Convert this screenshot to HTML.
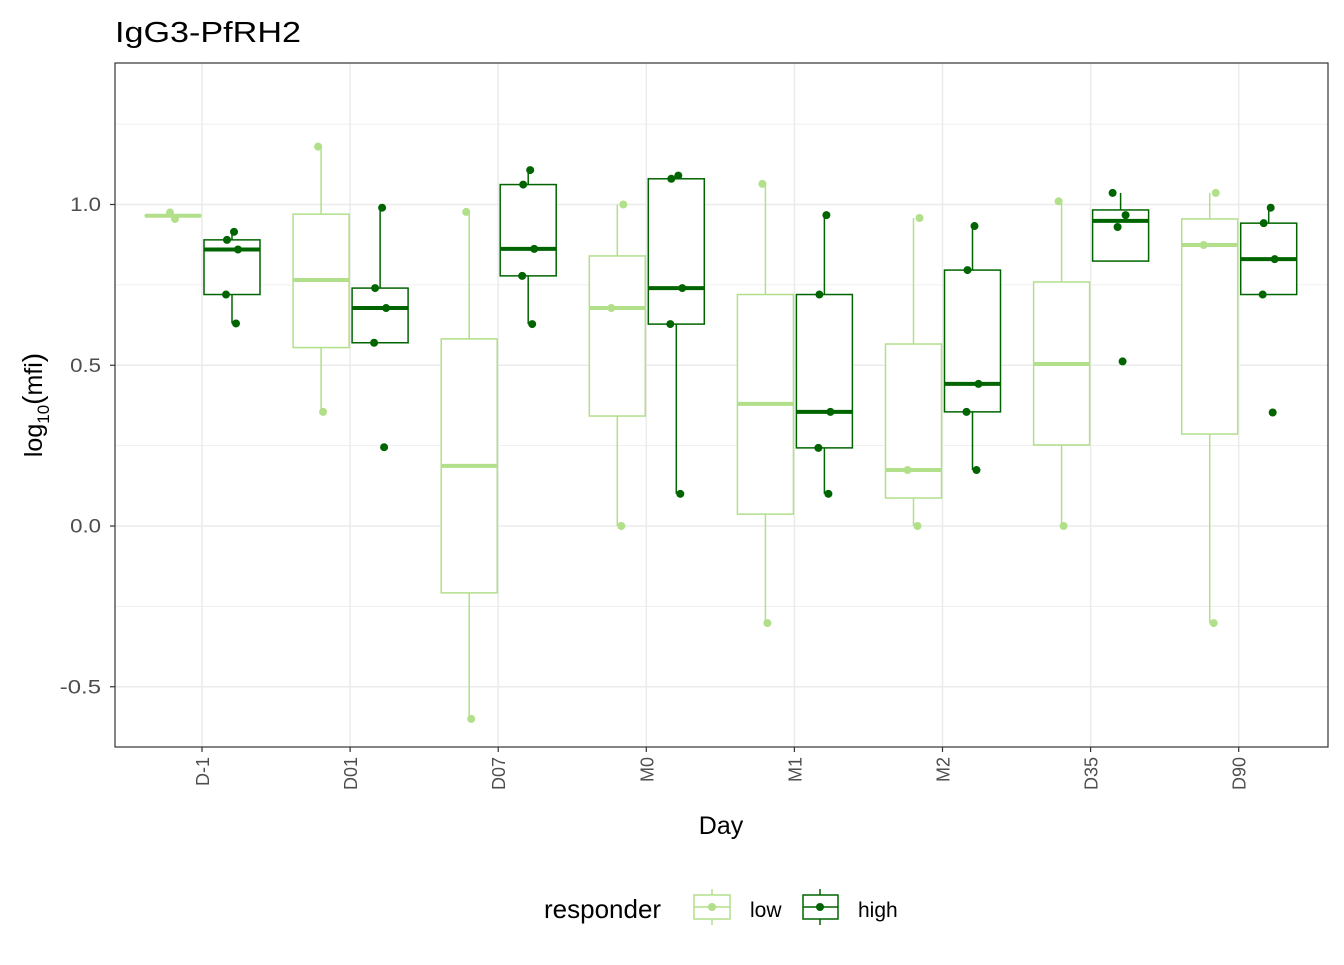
<!DOCTYPE html>
<html><head><meta charset="utf-8"><style>
body{margin:0;background:#fff;}
svg text{font-family:"Liberation Sans",Arial,sans-serif;}
</style></head><body>
<svg id="chart" width="1344" height="960" xmlns="http://www.w3.org/2000/svg">
<rect width="1344" height="960" fill="#fff"/>
<text x="115" y="42" font-size="29" textLength="186" lengthAdjust="spacingAndGlyphs" fill="#000">IgG3-PfRH2</text>
<g id="grid"></g>
<g id="marks"></g>
<rect x="115" y="63" width="1213" height="684" fill="none" stroke="#333" stroke-width="1.2"/>
<g id="axes"></g>
<text x="721" y="834" font-size="25" text-anchor="middle" fill="#000">Day</text>
<text transform="translate(42,405) rotate(-90)" font-size="25" text-anchor="middle" fill="#000">log<tspan font-size="17" dy="7">10</tspan><tspan dy="-7" font-size="28">(</tspan>mfi<tspan font-size="28">)</tspan></text>
<g>
<text x="544" y="918" font-size="26" fill="#000">responder</text>
<g>
<line x1="712" y1="889" x2="712" y2="925" stroke="#b2df8a" stroke-width="1.5"/>
<rect x="694" y="895" width="36" height="24" fill="#fff" stroke="#b2df8a" stroke-width="1.5"/>
<line x1="694" y1="907" x2="730" y2="907" stroke="#b2df8a" stroke-width="1.5"/>
<circle cx="712" cy="907" r="4" fill="#b2df8a"/>
<text x="750" y="917" font-size="21" fill="#000">low</text></g>
<g>
<line x1="820" y1="889" x2="820" y2="925" stroke="#006400" stroke-width="1.5"/>
<rect x="803" y="895" width="35" height="24" fill="#fff" stroke="#006400" stroke-width="1.5"/>
<line x1="803" y1="907" x2="838" y2="907" stroke="#006400" stroke-width="1.5"/>
<circle cx="820" cy="907" r="4" fill="#006400"/>
<text x="858" y="917" font-size="21" fill="#000">high</text></g>
</g>
</svg>
<script>
const categories=["D-1","D01","D07","M0","M1","M2","D35","D90"];
const yTicks=[-0.5,0,0.5,1.0];
const yTickLabels=["-0.5","0.0","0.5","1.0"];
const yMinor=[-0.25,0.25,0.75,1.25];
// [lowerWhisker, q1, median, q3, upperWhisker]
const lowStats=[[0.965,0.965,0.965,0.965,0.965],[0.355,0.555,0.765,0.97,1.18],[-0.6,-0.208,0.187,0.582,0.977],[0,0.342,0.678,0.84,1.0],[-0.302,0.037,0.38,0.72,1.064],[0,0.087,0.174,0.566,0.958],[0,0.252,0.504,0.759,1.01],[-0.302,0.286,0.874,0.955,1.036]];
const highStats=[[0.63,0.72,0.86,0.89,0.915],[0.57,0.57,0.678,0.74,0.99],[0.628,0.778,0.862,1.062,1.107],[0.1,0.628,0.74,1.08,1.09],[0.1,0.243,0.355,0.72,0.967],[0.174,0.355,0.442,0.796,0.933],[0.824,0.824,0.949,0.983,1.036],[0.72,0.72,0.83,0.942,0.99]];
const lowPoints=[[0.975,0.955],[1.18,0.355],[0.977,-0.6],[1.0,0.678,0.0],[1.064,-0.302],[0.958,0.174,0.0],[1.01,0.0],[1.036,0.874,-0.302]];
const highPoints=[[0.915,0.89,0.86,0.72,0.63],[0.99,0.74,0.678,0.57,0.245],[1.107,1.062,0.862,0.778,0.628],[1.09,1.08,0.74,0.628,0.1],[0.967,0.72,0.355,0.243,0.1],[0.933,0.796,0.442,0.355,0.174],[1.036,0.967,0.93,0.512],[0.99,0.942,0.83,0.72,0.353]];
const jitter=[-5,4,-3,6,-8,2,-6,5];
const NS="http://www.w3.org/2000/svg";
const x=i=>202+i*148.1;
const y=v=>526-321.5*v;
function mk(tag,attrs,parent){const e=document.createElementNS(NS,tag);for(const k in attrs)e.setAttribute(k,attrs[k]);parent.appendChild(e);return e;}
const grid=document.getElementById('grid'),marks=document.getElementById('marks'),axes=document.getElementById('axes');
yMinor.forEach(v=>{const l=mk('line',{x1:115,x2:1328,y1:y(v),y2:y(v),stroke:'#ebebeb','stroke-width':0.8},grid);

});
yTicks.forEach((v,i)=>{const l=mk('line',{x1:115,x2:1328,y1:y(v),y2:y(v),stroke:'#ebebeb','stroke-width':1.5},grid);


mk('line',{x1:110,x2:115,y1:y(v),y2:y(v),stroke:'#333','stroke-width':1.2},axes);
const lab=yTickLabels[i];
const t=mk('text',{x:101,y:y(v)+6.5,'font-size':19,'text-anchor':'end',fill:'#4d4d4d',textLength:lab.length*10.3,lengthAdjust:'spacingAndGlyphs'},axes);t.textContent=lab;

});
categories.forEach((c,i)=>{const l=mk('line',{x1:x(i),x2:x(i),y1:63,y2:747,stroke:'#ebebeb','stroke-width':1.5},grid);


mk('line',{x1:x(i),x2:x(i),y1:747,y2:752,stroke:'#333','stroke-width':1.2},axes);
const t=mk('text',{transform:`translate(${x(i)+7},757) rotate(-90)`,'font-size':18,'text-anchor':'end',fill:'#4d4d4d'},axes);t.textContent=c;

});
function drawBox(s,cx,col,name){const g=mk('g',{},marks);


mk('line',{x1:cx,x2:cx,y1:y(s[0]),y2:y(s[4]),stroke:col,'stroke-width':1.5},g);
mk('rect',{x:cx-28,y:y(s[3]),width:56,height:Math.max(0.01,y(s[1])-y(s[3])),fill:'#fff',stroke:col,'stroke-width':1.5},g);
mk('line',{x1:cx-28,x2:cx+28,y1:y(s[2]),y2:y(s[2]),stroke:col,'stroke-width':4},g);}
function drawPts(p,cx,col,name){p.forEach((v,j)=>{const c=mk('circle',{cx:cx+jitter[(j*3+p.length)%jitter.length],cy:y(v),r:4,fill:col},marks);

});}
categories.forEach((c,i)=>{
drawBox(lowStats[i],x(i)-29,'#b2df8a','box-low-'+c);
drawBox(highStats[i],x(i)+30,'#006400','box-high-'+c);
drawPts(lowPoints[i],x(i)-29,'#b2df8a','point-low');
drawPts(highPoints[i],x(i)+30,'#006400','point-high');});
</script>
</body></html>
